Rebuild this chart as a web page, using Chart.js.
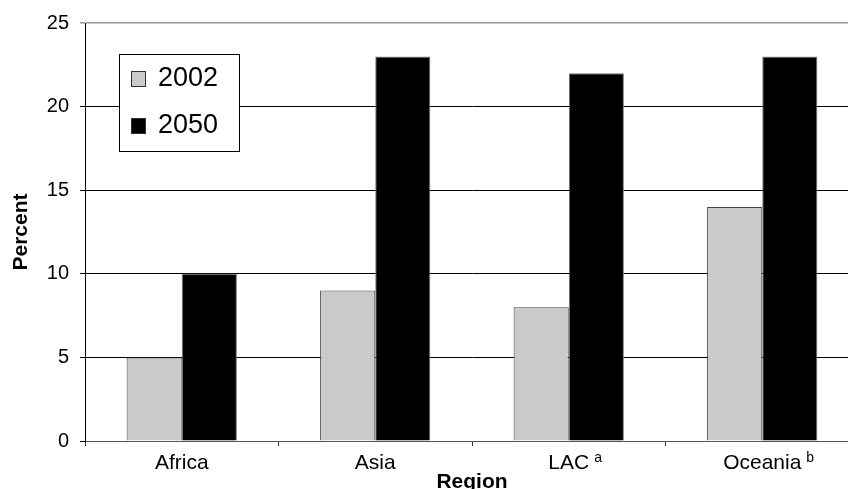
<!DOCTYPE html>
<html>
<head>
<meta charset="utf-8">
<script src="https://cdn.jsdelivr.net/npm/chart.js@4/dist/chart.umd.min.js"></script>
<style>
  html, body { margin: 0; padding: 0; background: #fff; overflow: hidden; }
  #wrap { width: 848px; height: 489px; overflow: hidden; }
</style>
</head>
<body>
<div id="wrap"><canvas id="chartCanvas" width="872" height="495"></canvas></div>
<script>
const categories = ["Africa", "Asia", "LAC", "Oceania"];
const footnotes = ["", "", "a", "b"];
const values2002 = [5, 9, 8, 14];
const values2050 = [10, 23, 22, 23];
const yTicks = [0, 5, 10, 15, 20, 25];

const FONT = "'Liberation Sans', Arial, sans-serif";

// legend drawn as a boxed inset in the top-left of the plot
const insetLegend = {
  id: "insetLegend",
  afterDraw(chart) {
    const ctx = chart.ctx;
    const area = chart.chartArea;
    const x0 = area.left + 34, y0 = area.top + 31;
    ctx.save();
    ctx.fillStyle = "#fff";
    ctx.fillRect(x0, y0, 120, 97);
    ctx.strokeStyle = "#000";
    ctx.lineWidth = 1;
    ctx.strokeRect(x0 + 0.5, y0 + 0.5, 120, 97);
    ctx.font = "27px " + FONT;
    ctx.textBaseline = "middle";
    chart.data.datasets.forEach(function (ds, i) {
      const cy = y0 + 24 + i * 47;
      ctx.fillStyle = ds.backgroundColor;
      ctx.fillRect(x0 + 12, cy - 7, 14, 15);
      ctx.strokeStyle = "#333";
      ctx.strokeRect(x0 + 12.5, cy - 6.5, 14, 15);
      ctx.fillStyle = "#000";
      ctx.fillText(ds.label, x0 + 39, cy + 1);
    });
    ctx.restore();
  }
};

// superscript footnote letters after some category labels
const footnoteMarks = {
  id: "footnoteMarks",
  afterDraw(chart) {
    const ctx = chart.ctx;
    const xs = chart.scales.x;
    ctx.save();
    ctx.fillStyle = "#000";
    categories.forEach(function (c, i) {
      if (!footnotes[i]) return;
      ctx.font = "21px " + FONT;
      const w = ctx.measureText(c).width;
      const x = xs.getPixelForValue(i) + w / 2 + 5;
      ctx.font = "14px " + FONT;
      ctx.textBaseline = "alphabetic";
      ctx.fillText(footnotes[i], x, xs.top + 21);
    });
    ctx.restore();
  }
};

new Chart(document.getElementById("chartCanvas").getContext("2d"), {
  type: "bar",
  data: {
    labels: categories,
    datasets: [{
      label: "2002",
      data: values2002,
      backgroundColor: "#cacaca",
      borderColor: "#444",
      borderWidth: 1
    }, {
      label: "2050",
      data: values2050,
      backgroundColor: "#000",
      borderColor: "#777",
      borderWidth: 1
    }]
  },
  options: {
    responsive: false,
    animation: false,
    layout: { padding: { top: 22, right: 13, left: 0, bottom: 0 } },
    categoryPercentage: 0.57,
    barPercentage: 1,
    plugins: {
      legend: { display: false },
      tooltip: { enabled: false }
    },
    scales: {
      x: {
        afterFit(scale) { scale.height = 54; },
        grid: {
          drawOnChartArea: false,
          drawTicks: true,
          tickLength: 5,
          color: "#333"
        },
        border: { color: "#555", width: 1 },
        ticks: {
          color: "#000",
          padding: 5,
          font: { family: FONT, size: 21 }
        },
        title: {
          display: true,
          text: "Region",
          color: "#000",
          padding: 0,
          font: { family: FONT, size: 21, weight: "bold" }
        }
      },
      y: {
        min: 0,
        max: 25,
        afterFit(scale) { scale.width = 85; },
        afterBuildTicks(scale) {
          scale.ticks = yTicks.map(function (v) { return { value: v }; });
        },
        grid: {
          tickLength: 5,
          color: function (c) { return c.tick && c.tick.value === 25 ? "#999" : "#000"; },
          lineWidth: function (c) { return c.tick && c.tick.value === 25 ? 1.5 : 1; }
        },
        border: { color: "#000", width: 1 },
        ticks: {
          color: "#000",
          padding: 11,
          font: { family: FONT, size: 20 }
        },
        title: {
          display: true,
          text: "Percent",
          color: "#000",
          padding: { top: 9, bottom: 0 },
          font: { family: FONT, size: 21, weight: "bold" }
        }
      }
    }
  },
  plugins: [insetLegend, footnoteMarks]
});
</script>
</body>
</html>
